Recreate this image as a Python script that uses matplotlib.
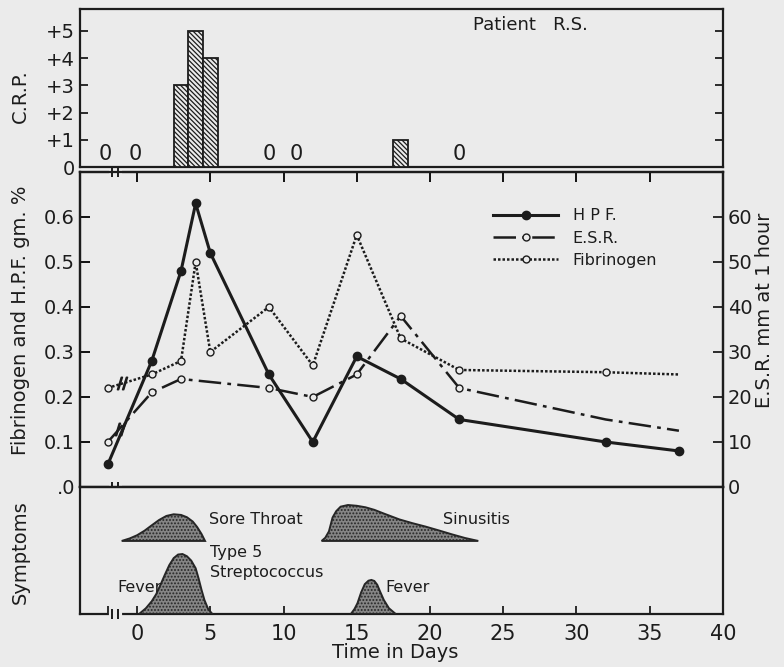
import numpy as np
import matplotlib
matplotlib.use("Agg")
import matplotlib.pyplot as plt
from matplotlib.legend_handler import HandlerLine2D
from matplotlib.lines import Line2D

# ---- data
days = [-2, 1, 3, 4, 5, 9, 12, 15, 18, 22, 32, 37]
hpf = [0.05, 0.28, 0.48, 0.63, 0.52, 0.25, 0.10, 0.29, 0.24, 0.15, 0.10, 0.08]
fib_days = [-2, 1, 3, 4, 5, 9, 12, 15, 18, 22, 32, 37]
fibrinogen = [0.22, 0.25, 0.28, 0.50, 0.30, 0.40, 0.27, 0.56, 0.33, 0.26, 0.255, 0.25]
esr_days = [-2, 1, 3, 9, 12, 15, 18, 22, 32, 37]
esr = [10, 21, 24, 22, 20, 25, 38, 22, 15, 12.5]

crp_days = [3, 4, 5, 18]
crp = [3, 5, 4, 1]
crp_zero_days = [-2.2, -0.1, 9, 10.9, 22]

# symptom outlines (day, height in panel units)
sore_throat_day = [-1.05, -0.5, 0.0, 0.5, 1.0, 1.5, 2.0, 2.5, 3.0, 3.4, 3.8, 4.1, 4.4, 4.64]
sore_throat_h = [5.75, 5.95, 6.2, 6.55, 6.98, 7.4, 7.72, 7.85, 7.8, 7.62, 7.28, 6.85, 6.3, 5.75]
fever1_day = [0.14, 0.6, 1.0, 1.3, 1.6, 1.9, 2.2, 2.5, 2.8, 3.1, 3.4, 3.7, 4.0, 4.2, 4.4, 4.6, 4.85, 5.14]
fever1_h = [0, 0.45, 1.0, 1.55, 2.3, 3.1, 3.85, 4.4, 4.68, 4.72, 4.55, 4.2, 3.6, 2.8, 1.9, 1.1, 0.4, 0]
sinus_day = [12.6, 12.85, 13.1, 13.35, 13.6, 13.9, 14.4, 15.0, 15.6, 16.2, 16.8, 17.9, 18.8, 19.7, 20.6, 21.5, 22.4, 23.3]
sinus_h = [5.75, 6.0, 6.5, 7.6, 8.1, 8.45, 8.58, 8.52, 8.4, 8.2, 7.93, 7.45, 7.15, 6.88, 6.58, 6.27, 5.98, 5.75]
fever2_day = [14.6, 14.85, 15.05, 15.3, 15.55, 15.8, 16.0, 16.2, 16.4, 16.6, 16.85, 17.2, 17.66]
fever2_h = [0, 0.4, 0.85, 1.7, 2.35, 2.62, 2.68, 2.6, 2.3, 1.75, 1.1, 0.45, 0]

x_ticks = [0, 5, 10, 15, 20, 25, 30, 35, 40]
break_day = -1.5

bg = '#ebebeb'
ink = '#1c1c1c'
plt.rcParams['font.family'] = ['DejaVu Sans']
plt.rcParams['hatch.linewidth'] = 0.9
plt.rcParams['axes.linewidth'] = 1.6

fig = plt.figure(figsize=(7.84, 6.67), dpi=100, facecolor=bg)
ax_top = fig.add_axes([0.102, 0.7496, 0.820, 0.2369], facecolor=bg)
ax_mid = fig.add_axes([0.102, 0.2699, 0.820, 0.4723], facecolor=bg)
ax_bot = fig.add_axes([0.102, 0.0795, 0.820, 0.1904], facecolor=bg)

for a in (ax_top, ax_mid, ax_bot):
    a.set_xlim(-3.9, 40)
    for s in a.spines.values():
        s.set_color(ink)


# small "||" break on a horizontal spine
def spine_break(ax, yfrac):
    tr = ax.get_xaxis_transform()
    ax.plot([break_day - 0.3, break_day + 0.3], [yfrac, yfrac], color=bg, lw=3,
            transform=tr, clip_on=False, zorder=5)
    ax.plot([break_day - 0.18, break_day + 0.18], [yfrac, yfrac], ls='', marker='|',
            ms=7, mew=1.4, color=ink, transform=tr, clip_on=False, zorder=6)


# ---- top panel: C.R.P.
ax_top.bar(crp_days, crp, width=1.0, color=bg, edgecolor=ink, lw=1.3,
           hatch='\\\\\\\\\\\\\\', zorder=3)
for d in crp_zero_days:
    ax_top.text(d, 0.12, '0', ha='center', va='bottom', fontsize=15, color=ink)
ax_top.set_ylim(0, 5.8)
ax_top.set_yticks([0, 1, 2, 3, 4, 5])
ax_top.set_yticklabels(['0', '+1', '+2', '+3', '+4', '+5'], fontsize=14, color=ink)
ax_top.tick_params(axis='y', left=True, right=True, direction='in', length=6,
                   width=1.3, labelleft=True, colors=ink)
ax_top.set_xticks([])
ax_top.set_ylabel('C.R.P.', fontsize=14, color=ink)
ax_top.yaxis.set_label_coords(-0.078, 0.45)
ax_top.text(0.611, 0.9, 'Patient   R.S.', transform=ax_top.transAxes, fontsize=13,
            color=ink, ha='left', va='center')

# ---- middle panel: HPF, fibrinogen, ESR
l_hpf, = ax_mid.plot(days, hpf, color=ink, lw=2.2, marker='o', ms=6, mfc=ink,
                     mec=ink, label='H P F.', zorder=4)
l_fib, = ax_mid.plot(fib_days, fibrinogen, color=ink, lw=1.8, ls=(0, (1, 0.8)),
                     marker='o', ms=5, mfc=bg, mec=ink, mew=1.0,
                     markevery=list(range(len(fib_days) - 1)), label='Fibrinogen', zorder=3)
ax_mid.set_ylim(0, 0.70)
ax_mid.set_yticks([0, 0.1, 0.2, 0.3, 0.4, 0.5, 0.6])
ax_mid.set_yticklabels(['.0', '0.1', '0.2', '0.3', '0.4', '0.5', '0.6'], fontsize=14, color=ink)
ax_mid.set_xticks(x_ticks[:-1])
ax_mid.tick_params(axis='x', top=True, bottom=False, labelbottom=False, direction='in',
                   length=7, width=1.3)
ax_mid.tick_params(axis='y', left=True, direction='in', length=7, width=1.3)
ax_mid.set_ylabel('Fibrinogen and H.P.F. gm. %', fontsize=14, color=ink)
ax_mid.yaxis.set_label_coords(-0.078, 0.53)

ax_esr = ax_mid.twinx()
l_esr, = ax_esr.plot(esr_days, esr, color=ink, lw=1.8, ls=(0, (9, 2.5, 1.5, 2.5)),
                     marker='o', ms=5, mfc=bg, mec=ink, mew=1.0,
                     markevery=list(range(len(esr_days) - 2)), label='E.S.R.', zorder=3)
ax_esr.set_ylim(0, 70)
ax_esr.set_yticks([0, 10, 20, 30, 40, 50, 60])
ax_esr.set_yticklabels(['0', '10', '20', '30', '40', '50', '60'], fontsize=14, color=ink)
ax_esr.tick_params(axis='y', direction='in', length=7, width=1.3, colors=ink)
ax_esr.set_ylabel('E.S.R. mm at 1 hour', fontsize=14, color=ink, rotation=90)
ax_esr.yaxis.set_label_coords(1.05, 0.56)
for s in ax_esr.spines.values():
    s.set_color(ink)

# breaks on the series between the first two readings
fib_b = np.interp(-1.0, fib_days[:2], fibrinogen[:2])
esr_b = np.interp(-1.2, esr_days[:2], esr[:2])
ax_mid.plot([-1.0], [fib_b], ls='', marker=r'$//$', ms=9, color=ink, zorder=6)
ax_esr.plot([-1.2], [esr_b], ls='', marker=r'$//$', ms=9, color=ink, zorder=6)


class StartMarker(HandlerLine2D):
    def get_xdata(self, legend, xdescent, ydescent, width, height, fontsize):
        return [-xdescent, -xdescent + width], [-xdescent]


leg = ax_esr.legend([l_hpf, l_esr, l_fib], ['H P F.', 'E.S.R.', 'Fibrinogen'],
                    loc='upper left', bbox_to_anchor=(0.62, 0.93), frameon=False,
                    fontsize=11.5, handlelength=4.1, handletextpad=0.9, labelspacing=0.45,
                    handler_map={Line2D: StartMarker()})
for t in leg.get_texts():
    t.set_color(ink)

# ---- bottom panel: symptoms
shade = dict(facecolor='#858585', edgecolor='#262626', lw=1.4, hatch='.....', zorder=3)
ax_bot.fill(sore_throat_day, sore_throat_h, **shade)
ax_bot.fill(fever1_day, fever1_h, **shade)
ax_bot.fill(sinus_day, sinus_h, **shade)
ax_bot.fill(fever2_day, fever2_h, **shade)
ax_bot.set_ylim(0, 10)
ax_bot.set_yticks([])
txt = dict(fontsize=11.5, color=ink, va='center', ha='left')
ax_bot.text(4.9, 7.4, 'Sore Throat', **txt)
ax_bot.text(5.0, 4.85, 'Type 5', **txt)
ax_bot.text(5.0, 3.25, 'Streptococcus', **txt)
ax_bot.text(-1.35, 2.05, 'Fever', **txt)
ax_bot.text(20.9, 7.4, 'Sinusitis', **txt)
ax_bot.text(16.95, 2.05, 'Fever', **txt)
ax_bot.set_xticks([-2] + x_ticks)
ax_bot.set_xticklabels([''] + [str(t) for t in x_ticks], fontsize=15, color=ink)
ax_bot.tick_params(axis='x', direction='in', length=6, width=1.3, pad=7, colors=ink)
ax_bot.set_ylabel('Symptoms', fontsize=14, color=ink)
ax_bot.yaxis.set_label_coords(-0.078, 0.49)
ax_bot.set_xlabel('Time in Days', fontsize=14, color=ink)
ax_bot.xaxis.set_label_coords(0.49, -0.225)

spine_break(ax_mid, 1.0)
spine_break(ax_mid, 0.0)
spine_break(ax_bot, 0.0)

fig.savefig('out.png', dpi=100, facecolor=bg)
